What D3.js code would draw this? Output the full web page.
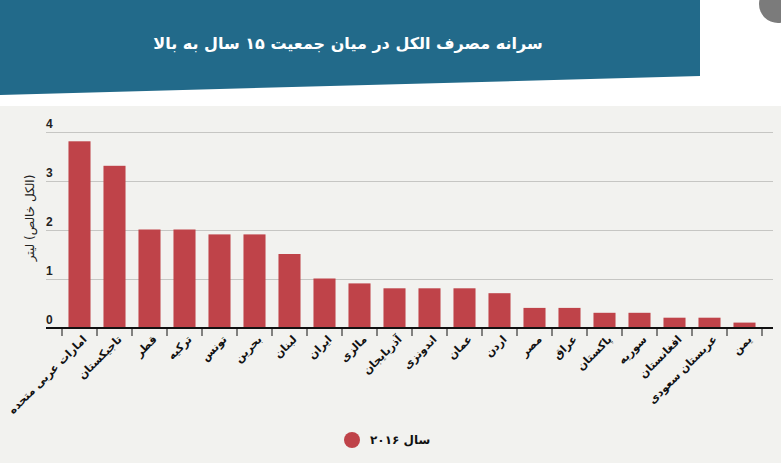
<!DOCTYPE html>
<html>
<head>
<meta charset="utf-8">
<script src="https://cdn.jsdelivr.net/npm/d3@7"></script>
<style>
  html, body { margin: 0; padding: 0; background: #ffffff; }
  svg { display: block; }
</style>
</head>
<body>
<svg id="chart" width="781" height="463"></svg>
<script>
const titleText = "سرانه مصرف الکل در میان جمعیت ۱۵ سال به بالا";
const yAxisTitle = "(الکل خالص) لیتر";
const seriesName = "سال ۲۰۱۶";
const categories = ["امارات عربی متحده", "تاجیکستان", "قطر", "ترکیه", "تونس", "بحرین", "لبنان", "ایران", "مالزی", "آذربایجان", "اندونزی", "عمان", "اردن", "مصر", "عراق", "پاکستان", "سوریه", "افغانستان", "عربستان سعودی", "یمن"];
const values = [3.8, 3.3, 2.0, 2.0, 1.9, 1.9, 1.5, 1.0, 0.9, 0.8, 0.8, 0.8, 0.7, 0.4, 0.4, 0.3, 0.3, 0.2, 0.2, 0.1];
const yTicks = [0, 1, 2, 3, 4];

const barColor = "#bf4349";
const arabicFont = "'DejaVu Sans', 'Noto Sans', sans-serif";
const numFont = "'Liberation Sans', Arial, sans-serif";

const svg = d3.select("#chart");

// banner
svg.append("polygon")
  .attr("points", "0,0 700,0 700,76 0,95")
  .attr("fill", "#226a8a");
svg.append("circle").attr("cx", 778).attr("cy", 4).attr("r", 19).attr("fill", "#7b7b7b");
svg.append("text")
  .attr("x", 348).attr("y", 49)
  .attr("text-anchor", "middle")
  .attr("fill", "#ffffff")
  .attr("font-family", arabicFont)
  .attr("font-weight", "bold")
  .attr("font-size", 16)
  .text(titleText);

// panel
svg.append("rect").attr("x", 0).attr("y", 106).attr("width", 781).attr("height", 357).attr("fill", "#f2f2ef");

const x = d3.scaleBand().domain(categories).range([62, 762]).paddingInner(0.37).paddingOuter(0.185);
const y = d3.scaleLinear().domain([0, 4]).range([327.5, 131.5]);

// grid
svg.append("g").selectAll("line").data(yTicks.filter(d => d > 0)).join("line")
  .attr("x1", 46).attr("x2", 773)
  .attr("y1", d => Math.round(y(d)) + 0.5).attr("y2", d => Math.round(y(d)) + 0.5)
  .attr("stroke", "#c6c6c3").attr("stroke-width", 1);

// y tick labels
svg.append("g").selectAll("text").data(yTicks).join("text")
  .attr("x", 46).attr("y", d => y(d) - 4)
  .attr("font-family", numFont).attr("font-weight", "bold").attr("font-size", 12)
  .attr("fill", "#222").text(d => d);

// y title
svg.append("text")
  .attr("transform", "translate(34,218) rotate(-90)")
  .attr("text-anchor", "middle")
  .attr("direction", "rtl")
  .attr("font-family", arabicFont).attr("font-size", 12)
  .attr("fill", "#222").text(yAxisTitle);

// bars
svg.append("g").selectAll("rect").data(categories).join("rect")
  .attr("x", d => x(d)).attr("width", x.bandwidth())
  .attr("y", (d, i) => y(values[i])).attr("height", (d, i) => y(0) - y(values[i]))
  .attr("fill", barColor);

// x axis
const gap = (x.step() - x.bandwidth()) / 2;
const bounds = categories.map(d => x(d) - gap).concat([x(categories[categories.length - 1]) + x.bandwidth() + gap]);
svg.append("line").attr("x1", 46).attr("x2", 773).attr("y1", 328).attr("y2", 328)
  .attr("stroke", "#111").attr("stroke-width", 2);
svg.append("g").selectAll("line").data(bounds).join("line")
  .attr("x1", d => d).attr("x2", d => d).attr("y1", 328).attr("y2", 336)
  .attr("stroke", "#111").attr("stroke-width", 1);

svg.append("g").selectAll("text").data(categories).join("text")
  .attr("transform", d => `translate(${x(d) + x.bandwidth() / 2 + 8},${340}) rotate(-45)`)
  .attr("text-anchor", "end")
  .attr("font-family", arabicFont).attr("font-weight", "bold").attr("font-size", 11)
  .attr("fill", "#111").text(d => d);

// legend
svg.append("circle").attr("cx", 352).attr("cy", 440).attr("r", 8).attr("fill", barColor);
svg.append("text").attr("x", 370).attr("y", 444)
  .attr("font-family", arabicFont).attr("font-weight", "bold").attr("font-size", 12)
  .attr("fill", "#111").text(seriesName);
</script>
</body>
</html>
